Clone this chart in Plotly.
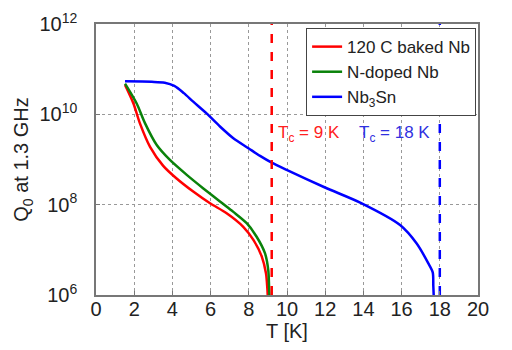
import plotly.graph_objects as go

# Data (T in K, log10 Q0)
red_T = [1.52, 1.96, 2.30, 2.83, 3.52, 4.22, 5.09, 5.97, 6.84, 7.71, 8.24, 8.68, 8.90, 8.97, 8.99]
red_logQ = [10.65, 10.24, 9.80, 9.28, 8.86, 8.58, 8.29, 8.03, 7.81, 7.51, 7.22, 6.85, 6.48, 6.15, 6.0]

green_T = [1.52, 2.13, 2.57, 3.18, 3.87, 4.75, 5.62, 6.49, 7.19, 7.89, 8.41, 8.85, 9.02, 9.06, 9.08]
green_logQ = [10.68, 10.24, 9.80, 9.32, 8.99, 8.66, 8.36, 8.07, 7.84, 7.59, 7.29, 6.92, 6.55, 6.2, 6.0]

blue_T = [1.52, 2.92, 3.60, 4.10, 4.60, 5.09, 5.79, 6.49, 7.19, 7.98, 8.59, 9.20, 9.98, 11.99, 13.91,
          15.92, 16.79, 17.40, 17.63, 17.66, 17.68]
blue_logQ = [10.73, 10.72, 10.70, 10.63, 10.47, 10.28, 10.02, 9.73, 9.47, 9.25, 9.08, 8.93, 8.77, 8.38,
             8.03, 7.55, 7.14, 6.70, 6.50, 6.2, 6.0]

tc_nb = 9.2
tc_nb3sn = 18.0

x_ticks = list(range(0, 21, 2))
y_tickvals = [1e6, 1e8, 1e10, 1e12]
y_ticktext = ["10<sup>6</sup>", "10<sup>8</sup>", "10<sup>10</sup>", "10<sup>12</sup>"]

series = [
    ("120 C baked Nb", red_T, red_logQ, "#ff0000"),
    ("N-doped Nb", green_T, green_logQ, "#0a820a"),
    ("Nb<sub>3</sub>Sn", blue_T, blue_logQ, "#0000ff"),
]

fig = go.Figure()
for name, T, lq, col in series:
    fig.add_trace(go.Scatter(x=T, y=[10 ** v for v in lq], mode="lines", name=name,
                             line=dict(color=col, width=2.5, shape="spline", smoothing=0.8)))

for tc, col in [(tc_nb, "#ff0000"), (tc_nb3sn, "#0000ff")]:
    fig.add_trace(go.Scatter(x=[tc, tc], y=[1e6, 1e12], mode="lines", showlegend=False,
                             line=dict(color=col, width=2.5, dash="dash")))

fig.add_annotation(x=9.42, y=9.56, xref="x", yref="y", text="T<sub>c</sub> = 9 K",
                   showarrow=False, xanchor="left", yanchor="middle",
                   font=dict(color="#ff2020", size=17))
fig.add_annotation(x=13.66, y=9.56, xref="x", yref="y", text="T<sub>c</sub> = 18 K",
                   showarrow=False, xanchor="left", yanchor="middle",
                   font=dict(color="#3030e0", size=17))

font = "Liberation Sans, Arial, sans-serif"
fig.update_layout(
    width=504, height=342,
    margin=dict(l=88, r=34, t=16, b=55),
    paper_bgcolor="white", plot_bgcolor="white",
    font=dict(family=font, size=20, color="#222"),
    legend=dict(x=0.55, y=0.985, xanchor="left", yanchor="top",
                bgcolor="white", bordercolor="#444", borderwidth=1,
                font=dict(size=17, color="#222"), itemwidth=30,
                tracegroupgap=0),
    xaxis=dict(range=[0, 20], tickvals=x_ticks, showgrid=True, gridcolor="#999",
               griddash="dot", gridwidth=1, showline=True, linecolor="#777", linewidth=1.5,
               mirror=True, ticks="inside", ticklen=4, tickcolor="#777", zeroline=False,
               ticklabelstandoff=-5, automargin=False,
               title=dict(text="T [K]", standoff=0, font=dict(size=20)),
               tickfont=dict(size=20)),
    yaxis=dict(type="log", range=[6, 12], tickvals=y_tickvals, ticktext=y_ticktext,
               showgrid=True, gridcolor="#999", griddash="dot", gridwidth=1,
               showline=True, linecolor="#777", linewidth=1.5, mirror=True,
               ticks="inside", ticklen=4, tickcolor="#777", zeroline=False,
               ticklabelstandoff=13, automargin=False,
               title=dict(text="Q<sub>0</sub> at 1.3 GHz", standoff=5, font=dict(size=20)),
               tickfont=dict(size=20)),
)

fig.write_html("out.html")
